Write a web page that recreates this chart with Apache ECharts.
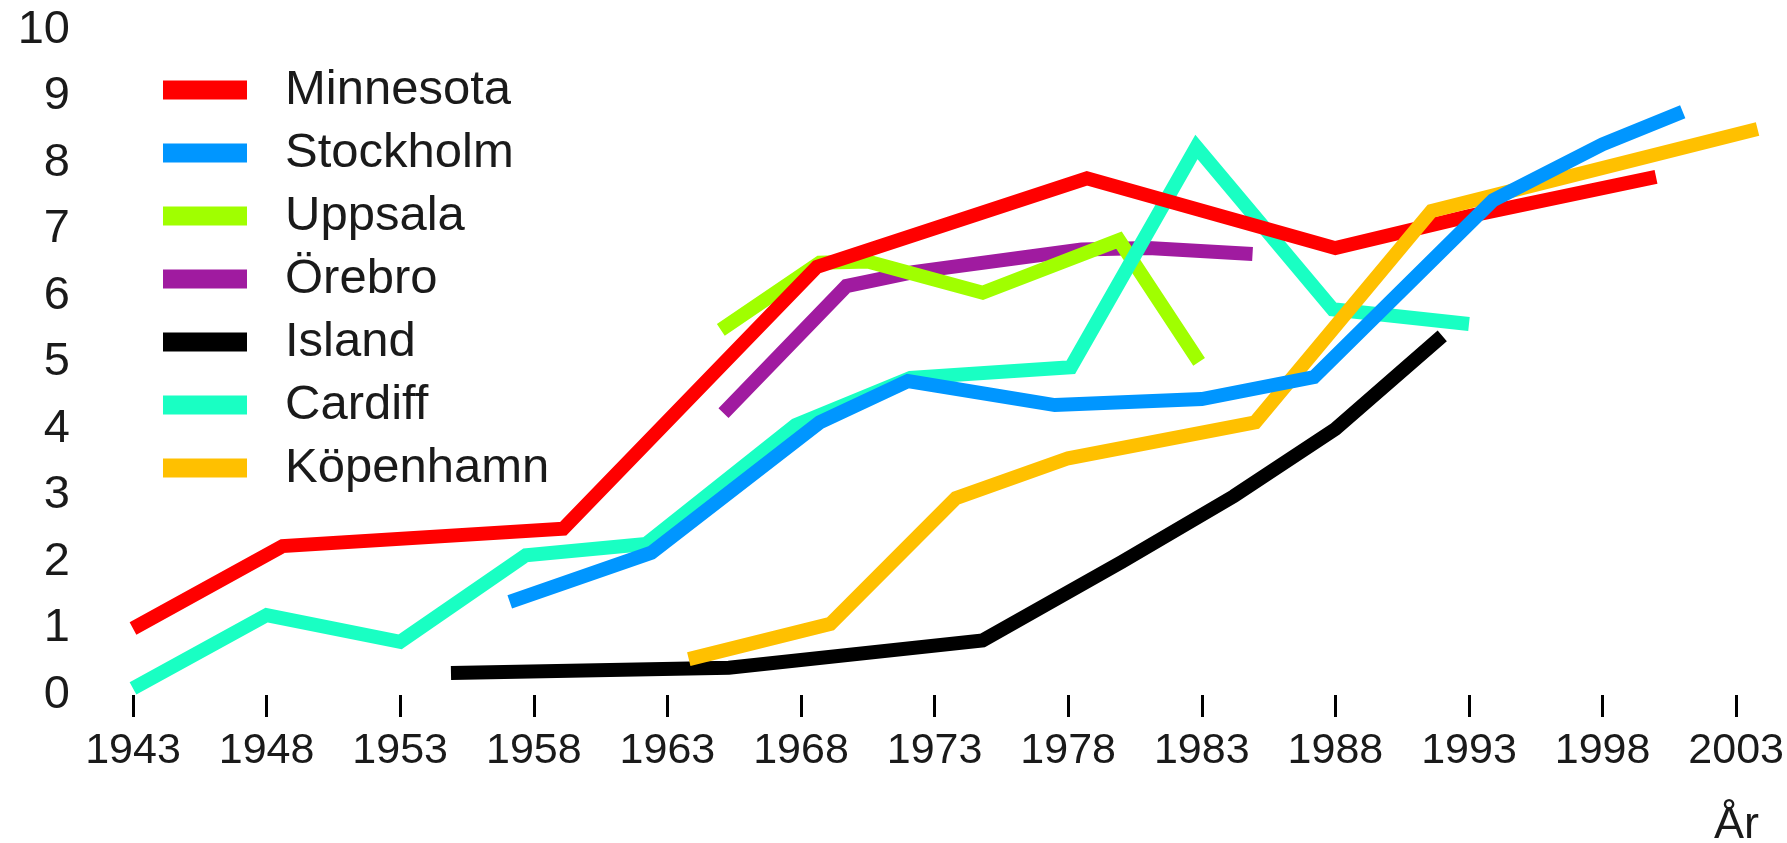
<!DOCTYPE html>
<html><head><meta charset="utf-8">
<script src="https://cdn.jsdelivr.net/npm/echarts@6/dist/echarts.min.js"></script>
<style>html,body{margin:0;padding:0;background:#fff}#c{width:1787px;height:843px}</style>
</head><body><div id="c"></div>
<script>
// Tick labels (years) on the x axis
const tickYears = [1943,1948,1953,1958,1963,1968,1973,1978,1983,1988,1993,1998,2003];
const xName = 'År';
const seriesNames = ['Minnesota','Stockholm','Uppsala','Örebro','Island','Cardiff','Köpenhamn'];
const seriesColors = ['#ff0000','#0096ff','#a0ff00','#a01ba0','#000000','#19ffc3','#ffc000'];
const seriesZ = [6,8,4,3,2,5,7];

// Series values [year, value]
const minnesota = [[1943,1.0],[1948.6,2.24],[1959.1,2.5],[1968.6,6.44],[1978.7,7.77],[1988,6.72],[1993,7.2],[2000,7.79]];
const stockholm = [[1957.1,1.4],[1962.4,2.14],[1968.7,4.1],[1972,4.72],[1977.5,4.36],[1983,4.45],[1987.2,4.78],[1993.9,7.44],[1998,8.28],[2001,8.77]];
const uppsala = [[1965,5.49],[1968.7,6.5],[1970.5,6.52],[1974.8,6.05],[1979.9,6.84],[1982.9,5.01]];
const orebro = [[1965.1,4.24],[1969.7,6.15],[1972.2,6.36],[1978.5,6.7],[1981,6.72],[1984.9,6.63]];
const island = [[1954.9,0.33],[1965.3,0.41],[1974.8,0.82],[1980,2.0],[1984.2,2.99],[1988,4.0],[1992,5.4]];
const cardiff = [[1943,0.1],[1948,1.2],[1953,0.8],[1957.7,2.1],[1962.2,2.27],[1967.8,4.06],[1972.1,4.77],[1978.1,4.93],[1982.8,8.24],[1987.9,5.8],[1993,5.58]];
const kopenhamn = [[1963.8,0.54],[1969.1,1.07],[1973.8,2.96],[1978,3.56],[1985,4.1],[1991.6,7.28],[2003.8,8.51]];
const allData = [minnesota, stockholm, uppsala, orebro, island, cardiff, kopenhamn];

const FONT = "'Liberation Sans', Arial, sans-serif";
const chart = echarts.init(document.getElementById('c'), null, {renderer:'canvas'});
chart.setOption({
  animation: false,
  backgroundColor: '#ffffff',
  grid: {left: 133, right: 24, top: 30, bottom: 148, containLabel: false},
  legend: {
    orient: 'vertical', left: 158, top: 60,
    icon: 'rect', itemWidth: 84, itemHeight: 19, itemGap: 13,
    data: seriesNames,
    textStyle: {fontFamily: FONT, fontSize: 49, lineHeight: 50, color: '#1a1a1a', padding: [0,0,0,33]}
  },
  xAxis: {
    type: 'value', min: 1943, max: 2004, offset: 13,
    axisLine: {show: false},
    splitLine: {show: false},
    axisTick: {show: true, customValues: tickYears, length: 22, lineStyle: {color: '#000', width: 3}},
    axisLabel: {customValues: tickYears, formatter: v => String(v), margin: 22,
      fontFamily: FONT, fontSize: 43, color: '#1a1a1a'}
  },
  yAxis: {
    type: 'value', min: 0, max: 10, interval: 1,
    axisLine: {show: false}, axisTick: {show: false}, splitLine: {show: false},
    axisLabel: {margin: 63, fontFamily: FONT, fontSize: 47, color: '#1a1a1a'}
  },
  graphic: [{type: 'text', left: 1714, top: 803, style: {text: xName, font: '45px ' + FONT, fill: '#1a1a1a'}}],
  series: seriesNames.map((n, i) => ({
    name: n, type: 'line', data: allData[i], z: seriesZ[i],
    showSymbol: false, symbol: 'none',
    itemStyle: {color: seriesColors[i]},
    lineStyle: {color: seriesColors[i], width: 14, join: 'miter', cap: 'butt'}
  }))
});
</script></body></html>
